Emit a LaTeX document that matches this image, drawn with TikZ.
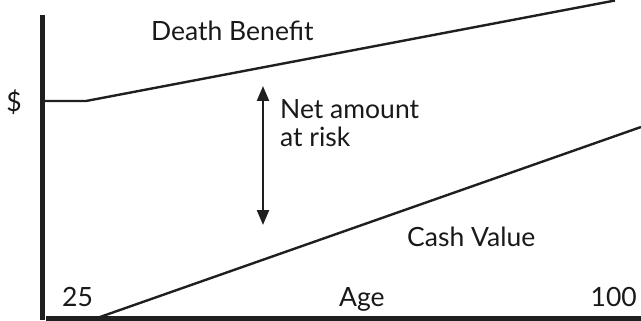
\documentclass[tikz,border=0pt]{standalone}
\usepackage{fontspec}
\setmainfont{Lato}
\usetikzlibrary{arrows.meta}
\begin{document}
\begin{tikzpicture}[x=1pt,y=-1pt,
  lbl/.style={inner sep=0pt,font=\fontsize{26.5}{28}\selectfont,text=black!90},
  axis/.style={line width=5pt,black!88},
  curve/.style={line width=2.4pt,black!88},
  twoway/.style={line width=2.4pt,black!88,{Triangle[length=15pt,width=12pt]}-{Triangle[length=15pt,width=12pt]}}]
\useasboundingbox (0,0) rectangle (641,321);
% axes
\coordinate (ytop) at (42,15);
\coordinate (ybot) at (42,320);
\coordinate (xl) at (46,318.5);
\coordinate (xr) at (641,318.5);
\draw[axis] (ytop) -- (ybot);
\draw[axis] (xl) -- (xr);
% death benefit
\coordinate (d0) at (44,101);
\coordinate (d1) at (86,101);
\coordinate (d2) at (615,0.5);
\draw[curve] (d0) -- (d1) -- (d2);
% cash value
\coordinate (c0) at (100,317);
\coordinate (c1) at (641,127);
\draw[curve] (c0) -- (c1);
% arrow
\coordinate (at) at (263,86);
\coordinate (ab) at (263,225);
\draw[twoway] (at) -- (ab);
% labels
\node[lbl,anchor=base west] (db) at (151,40.5) {Death Benefit};
\node[lbl,anchor=center] (dol) at (14,102) {\$};
\node[lbl,anchor=base west,align=left] (net) at (280,146.5) {Net amount\\at risk};
\node[lbl,anchor=base west] (cv) at (407,247) {Cash Value};
\node[lbl,anchor=base west] (a25) at (62,306) {25};
\node[lbl,anchor=base west] (age) at (339,306) {Age};
\node[lbl,anchor=base east] (a100) at (637,306) {100};
\end{tikzpicture}
\end{document}
